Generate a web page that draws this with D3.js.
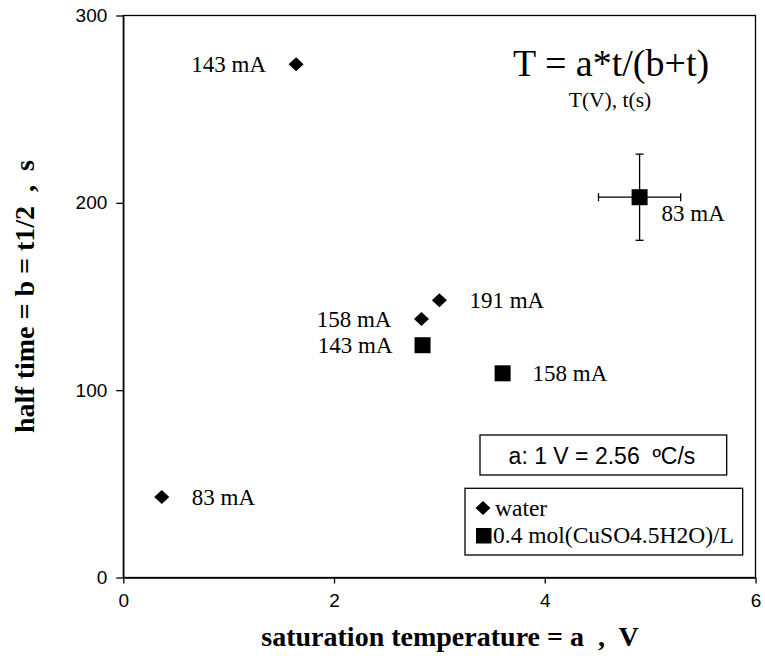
<!DOCTYPE html>
<html><head><meta charset="utf-8">
<script src="https://cdn.jsdelivr.net/npm/d3@7"></script>
<style>
html,body{margin:0;padding:0;background:#fff;}
svg{display:block;}
</style></head>
<body>
<svg id="chart" width="765" height="656"></svg>
<script>
// ---- data ----
const waterX = [1.64, 0.365, 2.83, 3.0];
const waterY = [274, 43, 138, 148];
const waterLabels = ["143 mA", "83 mA", "158 mA", "191 mA"];
const cuX = [2.84, 3.6, 4.9];
const cuY = [124, 109, 203];
const cuLabels = ["143 mA", "158 mA", "83 mA"];
const cuXErr = [0, 0, 0.39];
const cuYErr = [0, 0, 23];
const xTicks = [0, 2, 4, 6];
const yTicks = [0, 100, 200, 300];
const seriesNames = ["water", "0.4 mol(CuSO4.5H2O)/L"];
// label placement (style, not data)
const waterLabelSide = ["left", "right", "left", "right"];
const cuLabelSide = ["left", "right", "below"];

const svg = d3.select("#chart");
const L = 123.3, R = 755.5, T = 15.5, B = 577.5;
const x = d3.scaleLinear().domain([0, 6]).range([L, R]);
const y = d3.scaleLinear().domain([0, 300]).range([B, T]);
const serif = "'Liberation Serif','Times New Roman',serif";
const sans = "'Liberation Sans',Arial,sans-serif";

// frame
svg.append("rect").attr("x", L).attr("y", T).attr("width", R - L).attr("height", B - T)
  .attr("fill", "none").attr("stroke", "#000").attr("stroke-width", 1.3);

// axes
const xAxis = svg.append("g").attr("transform", `translate(0,${B})`)
  .call(d3.axisBottom(x).tickValues(xTicks).tickSize(6).tickSizeOuter(0).tickPadding(20).tickFormat(d3.format("d")));
const yAxis = svg.append("g").attr("transform", `translate(${L},0)`)
  .call(d3.axisLeft(y).tickValues(yTicks).tickSize(7).tickSizeOuter(0).tickPadding(9).tickFormat(d3.format("d")));
[xAxis, yAxis].forEach(g => {
  g.select(".domain").attr("stroke", "#000").attr("stroke-width", 1.3);
  g.selectAll(".tick line").attr("stroke", "#000").attr("stroke-width", 1.3);
  g.selectAll(".tick text").attr("font-family", sans).attr("font-size", 19).attr("fill", "#000");
});
xAxis.selectAll(".tick text").attr("dy", "0.2em");

// axis titles
svg.append("text").attr("x", 450).attr("y", 646).attr("text-anchor", "middle")
  .attr("font-family", serif).attr("font-weight", "bold").attr("font-size", 28)
  .style("white-space", "pre").text("saturation temperature = a  ,  V");
svg.append("text").attr("transform", `translate(34,${(T + B) / 2}) rotate(-90)`)
  .attr("text-anchor", "middle").attr("font-family", serif).attr("font-weight", "bold").attr("font-size", 28)
  .style("white-space", "pre").text("half time = b = t1/2  ,  s");

// custom diamond: half-width 7.5, half-height 7
const diamondPath = "M0,-7L7.5,0L0,7L-7.5,0Z";
const squareSize = 16;

// error bars
const cuData = cuX.map((v, i) => ({x: v, y: cuY[i], ex: cuXErr[i], ey: cuYErr[i], label: cuLabels[i], side: cuLabelSide[i]}));
const eb = svg.append("g").attr("stroke", "#000").attr("stroke-width", 1.3);
cuData.filter(d => d.ex > 0 || d.ey > 0).forEach(d => {
  const cx = x(d.x), cy = y(d.y), cap = 4;
  eb.append("line").attr("x1", x(d.x - d.ex)).attr("x2", x(d.x + d.ex)).attr("y1", cy).attr("y2", cy);
  eb.append("line").attr("x1", x(d.x - d.ex)).attr("x2", x(d.x - d.ex)).attr("y1", cy - cap).attr("y2", cy + cap);
  eb.append("line").attr("x1", x(d.x + d.ex)).attr("x2", x(d.x + d.ex)).attr("y1", cy - cap).attr("y2", cy + cap);
  eb.append("line").attr("x1", cx).attr("x2", cx).attr("y1", y(d.y - d.ey)).attr("y2", y(d.y + d.ey));
  eb.append("line").attr("x1", cx - cap).attr("x2", cx + cap).attr("y1", y(d.y - d.ey)).attr("y2", y(d.y - d.ey));
  eb.append("line").attr("x1", cx - cap).attr("x2", cx + cap).attr("y1", y(d.y + d.ey)).attr("y2", y(d.y + d.ey));
});

// water points
const wData = waterX.map((v, i) => ({x: v, y: waterY[i], label: waterLabels[i], side: waterLabelSide[i]}));
svg.append("g").selectAll("path").data(wData).join("path")
  .attr("d", diamondPath).attr("transform", d => `translate(${x(d.x)},${y(d.y)})`).attr("fill", "#000");
// cu points
svg.append("g").selectAll("rect").data(cuData).join("rect")
  .attr("x", d => x(d.x) - squareSize / 2).attr("y", d => y(d.y) - squareSize / 2)
  .attr("width", squareSize).attr("height", squareSize).attr("fill", "#000");

// labels
function addLabels(data, gap) {
  svg.append("g").selectAll("text").data(data).join("text")
    .attr("font-family", serif).attr("font-size", 23).attr("fill", "#000")
    .attr("x", d => d.side === "left" ? x(d.x) - gap : d.side === "right" ? x(d.x) + gap : x(d.x) + 22)
    .attr("y", d => (d.side === "below" ? y(d.y) + 16 : y(d.y)) + 7.6)
    .attr("text-anchor", d => d.side === "left" ? "end" : "start")
    .text(d => d.label);
}
addLabels(wData, 30);
addLabels(cuData, 30);

// formula
svg.append("text").attr("x", 611).attr("y", 76).attr("text-anchor", "middle")
  .attr("font-family", serif).attr("font-size", 38).text("T = a*t/(b+t)");
svg.append("text").attr("x", 610).attr("y", 107).attr("text-anchor", "middle")
  .attr("font-family", serif).attr("font-size", 21.5).text("T(V), t(s)");

// conversion note box
svg.append("rect").attr("x", 480).attr("y", 435).attr("width", 246.7).attr("height", 40)
  .attr("fill", "#fff").attr("stroke", "#000").attr("stroke-width", 1.3);
svg.append("text").attr("x", 602).attr("y", 464).attr("text-anchor", "middle")
  .attr("font-family", sans).attr("font-size", 23).style("white-space", "pre").text("a: 1 V = 2.56  ºC/s");

// legend
const lg = svg.append("g");
lg.append("rect").attr("x", 465).attr("y", 488.3).attr("width", 277.7).attr("height", 66.7)
  .attr("fill", "#fff").attr("stroke", "#000").attr("stroke-width", 1.3);
lg.append("path").attr("d", diamondPath).attr("transform", "translate(483,508)").attr("fill", "#000");
lg.append("rect").attr("x", 476).attr("y", 528).attr("width", 15.5).attr("height", 15.5).attr("fill", "#000");
lg.selectAll("text.lt").data(seriesNames).join("text").attr("class", "lt")
  .attr("x", (d, i) => i === 0 ? 495 : 493).attr("y", (d, i) => i === 0 ? 515.5 : 543)
  .attr("font-family", serif).attr("font-size", 23.5).text(d => d);
</script>
</body></html>
